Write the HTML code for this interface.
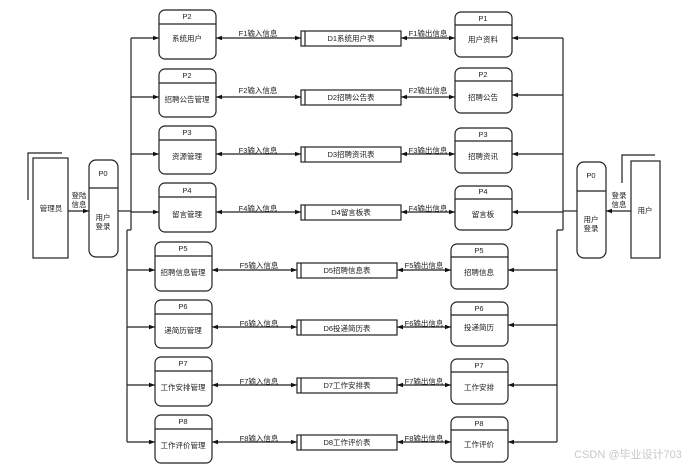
<!DOCTYPE html>
<html><head><meta charset="utf-8"><style>
html,body{margin:0;padding:0;background:#fff;}
svg{display:block;font-family:"Liberation Sans","Noto Sans CJK SC",sans-serif;}
text{font-size:7.5px;fill:#222;text-anchor:middle;}
</style></head><body>
<svg width="683" height="468" viewBox="0 0 683 468" xmlns="http://www.w3.org/2000/svg">
<defs>
<marker id="a" viewBox="0 0 6 6" refX="6" refY="3" markerWidth="5" markerHeight="5" orient="auto-start-reverse"><path d="M0,0.8 L6,3 L0,5.2z" fill="#111"/></marker>
</defs>
<g stroke="#222" stroke-width="1.2" fill="none">
<rect x="33" y="158" width="35" height="100" fill="#fff"/>
<path d="M28,200 V153 H62"/>
<rect x="89" y="160" width="29" height="97" rx="7" fill="#fff"/>
<line x1="89" y1="188" x2="118" y2="188"/>
<line x1="68" y1="211" x2="89" y2="211" marker-end="url(#a)"/>
<line x1="118" y1="211" x2="131" y2="211"/>
<path d="M131,38 V230 M127,230 V442 M131,230 H127" />
<rect x="631" y="161" width="29" height="97" fill="#fff"/>
<path d="M622,183 V155 H655"/>
<rect x="577" y="162" width="29" height="96" rx="7" fill="#fff"/>
<line x1="577" y1="191" x2="606" y2="191"/>
<line x1="631" y1="211" x2="606" y2="211" marker-end="url(#a)"/>
<line x1="577" y1="211" x2="563" y2="211"/>
<path d="M563,38 V230 M557,230 V442 M563,230 H557"/>
</g>
<text x="51" y="211">管理员</text>
<text x="79" y="198">登陆</text><text x="79" y="207">信息</text>
<text x="103" y="176">P0</text>
<text x="103" y="220">用户</text><text x="103" y="229">登录</text>
<text x="645" y="213">用户</text>
<text x="619" y="198">登录</text><text x="619" y="207">信息</text>
<text x="591" y="178">P0</text>
<text x="591" y="222">用户</text><text x="591" y="231">登录</text>

<g>
<g stroke="#222" stroke-width="1.2" fill="none">
<line x1="131" y1="38" x2="159" y2="38" marker-end="url(#a)"/>
<line x1="216" y1="38" x2="301" y2="38" marker-start="url(#a)" marker-end="url(#a)"/>
<line x1="401" y1="38" x2="455" y2="38" marker-start="url(#a)" marker-end="url(#a)"/>
<line x1="563" y1="38" x2="512" y2="38" marker-end="url(#a)"/>
<rect x="159" y="10" width="57" height="49" rx="6" fill="#fff"/><line x1="159" y1="24" x2="216" y2="24"/>
<rect x="301" y="31" width="100" height="15" fill="#fff"/><line x1="305" y1="31" x2="305" y2="46"/>
<rect x="455" y="12" width="57" height="45" rx="6" fill="#fff"/><line x1="455" y1="25" x2="512" y2="25"/>
</g>
<text x="187" y="19">P2</text><text x="187" y="41">系统用户</text>
<text x="258" y="36">F1输入信息</text><text x="351" y="41">D1系统用户表</text>
<text x="428" y="36">F1输出信息</text>
<text x="483" y="21">P1</text><text x="483" y="42">用户资料</text>

<g stroke="#222" stroke-width="1.2" fill="none">
<line x1="131" y1="97" x2="159" y2="97" marker-end="url(#a)"/>
<line x1="216" y1="97" x2="301" y2="97" marker-start="url(#a)" marker-end="url(#a)"/>
<line x1="401" y1="97" x2="455" y2="97" marker-start="url(#a)" marker-end="url(#a)"/>
<line x1="563" y1="95" x2="512" y2="95" marker-end="url(#a)"/>
<rect x="159" y="69" width="57" height="48" rx="6" fill="#fff"/><line x1="159" y1="83" x2="216" y2="83"/>
<rect x="301" y="90" width="100" height="15" fill="#fff"/><line x1="305" y1="90" x2="305" y2="105"/>
<rect x="455" y="68" width="57" height="45" rx="6" fill="#fff"/><line x1="455" y1="81" x2="512" y2="81"/>
</g>
<text x="187" y="78">P2</text><text x="187" y="102">招聘公告管理</text>
<text x="258" y="93">F2输入信息</text><text x="351" y="100">D2招聘公告表</text>
<text x="428" y="93">F2输出信息</text>
<text x="483" y="77">P2</text><text x="483" y="100">招聘公告</text>

<g stroke="#222" stroke-width="1.2" fill="none">
<line x1="131" y1="154" x2="159" y2="154" marker-end="url(#a)"/>
<line x1="216" y1="154" x2="301" y2="154" marker-start="url(#a)" marker-end="url(#a)"/>
<line x1="401" y1="154" x2="455" y2="154" marker-start="url(#a)" marker-end="url(#a)"/>
<line x1="563" y1="154" x2="512" y2="154" marker-end="url(#a)"/>
<rect x="159" y="126" width="57" height="48" rx="6" fill="#fff"/><line x1="159" y1="140" x2="216" y2="140"/>
<rect x="301" y="147" width="100" height="15" fill="#fff"/><line x1="305" y1="147" x2="305" y2="162"/>
<rect x="455" y="128" width="57" height="45" rx="6" fill="#fff"/><line x1="455" y1="141" x2="512" y2="141"/>
</g>
<text x="187" y="135">P3</text><text x="187" y="159">资源管理</text>
<text x="258" y="153">F3输入信息</text><text x="351" y="157">D3招聘资讯表</text>
<text x="428" y="153">F3输出信息</text>
<text x="483" y="137">P3</text><text x="483" y="159">招聘资讯</text>

<g stroke="#222" stroke-width="1.2" fill="none">
<line x1="131" y1="212" x2="159" y2="212" marker-end="url(#a)"/>
<line x1="216" y1="212" x2="301" y2="212" marker-start="url(#a)" marker-end="url(#a)"/>
<line x1="401" y1="212" x2="455" y2="212" marker-start="url(#a)" marker-end="url(#a)"/>
<line x1="563" y1="212" x2="512" y2="212" marker-end="url(#a)"/>
<rect x="159" y="183" width="57" height="49" rx="6" fill="#fff"/><line x1="159" y1="197" x2="216" y2="197"/>
<rect x="301" y="205" width="100" height="15" fill="#fff"/><line x1="305" y1="205" x2="305" y2="220"/>
<rect x="455" y="186" width="57" height="44" rx="6" fill="#fff"/><line x1="455" y1="199" x2="512" y2="199"/>
</g>
<text x="187" y="193">P4</text><text x="187" y="217">留言管理</text>
<text x="258" y="211">F4输入信息</text><text x="351" y="215">D4留言板表</text>
<text x="428" y="211">F4输出信息</text>
<text x="483" y="194">P4</text><text x="483" y="217">留言板</text>

<g stroke="#222" stroke-width="1.2" fill="none">
<line x1="127" y1="270" x2="155" y2="270" marker-end="url(#a)"/>
<line x1="212" y1="270" x2="297" y2="270" marker-start="url(#a)" marker-end="url(#a)"/>
<line x1="397" y1="270" x2="451" y2="270" marker-start="url(#a)" marker-end="url(#a)"/>
<line x1="557" y1="270" x2="508" y2="270" marker-end="url(#a)"/>
<rect x="155" y="242" width="57" height="49" rx="6" fill="#fff"/><line x1="155" y1="256" x2="212" y2="256"/>
<rect x="297" y="263" width="100" height="15" fill="#fff"/><line x1="301" y1="263" x2="301" y2="278"/>
<rect x="451" y="244" width="57" height="45" rx="6" fill="#fff"/><line x1="451" y1="257" x2="508" y2="257"/>
</g>
<text x="183" y="251">P5</text><text x="183" y="275">招聘信息管理</text>
<text x="259" y="268">F5输入信息</text><text x="347" y="273">D5招聘信息表</text>
<text x="424" y="268">F5输出信息</text>
<text x="479" y="253">P5</text><text x="479" y="275">招聘信息</text>

<g stroke="#222" stroke-width="1.2" fill="none">
<line x1="127" y1="327" x2="155" y2="327" marker-end="url(#a)"/>
<line x1="212" y1="327" x2="297" y2="327" marker-start="url(#a)" marker-end="url(#a)"/>
<line x1="397" y1="327" x2="451" y2="327" marker-start="url(#a)" marker-end="url(#a)"/>
<line x1="557" y1="325" x2="508" y2="325" marker-end="url(#a)"/>
<rect x="155" y="300" width="57" height="48" rx="6" fill="#fff"/><line x1="155" y1="314" x2="212" y2="314"/>
<rect x="297" y="320" width="100" height="15" fill="#fff"/><line x1="301" y1="320" x2="301" y2="335"/>
<rect x="451" y="302" width="57" height="44" rx="6" fill="#fff"/><line x1="451" y1="315" x2="508" y2="315"/>
</g>
<text x="183" y="309">P6</text><text x="183" y="333">递简历管理</text>
<text x="259" y="326">F6输入信息</text><text x="347" y="331">D6投递简历表</text>
<text x="424" y="326">F6输出信息</text>
<text x="479" y="311">P6</text><text x="479" y="330">投递简历</text>

<g stroke="#222" stroke-width="1.2" fill="none">
<line x1="127" y1="385" x2="155" y2="385" marker-end="url(#a)"/>
<line x1="212" y1="385" x2="297" y2="385" marker-start="url(#a)" marker-end="url(#a)"/>
<line x1="397" y1="385" x2="451" y2="385" marker-start="url(#a)" marker-end="url(#a)"/>
<line x1="557" y1="385" x2="508" y2="385" marker-end="url(#a)"/>
<rect x="155" y="357" width="57" height="49" rx="6" fill="#fff"/><line x1="155" y1="371" x2="212" y2="371"/>
<rect x="297" y="378" width="100" height="15" fill="#fff"/><line x1="301" y1="378" x2="301" y2="393"/>
<rect x="451" y="359" width="57" height="45" rx="6" fill="#fff"/><line x1="451" y1="372" x2="508" y2="372"/>
</g>
<text x="183" y="366">P7</text><text x="183" y="390">工作安排管理</text>
<text x="259" y="384">F7输入信息</text><text x="347" y="388">D7工作安排表</text>
<text x="424" y="384">F7输出信息</text>
<text x="479" y="368">P7</text><text x="479" y="390">工作安排</text>

<g stroke="#222" stroke-width="1.2" fill="none">
<line x1="127" y1="442" x2="155" y2="442" marker-end="url(#a)"/>
<line x1="212" y1="442" x2="297" y2="442" marker-start="url(#a)" marker-end="url(#a)"/>
<line x1="397" y1="442" x2="451" y2="442" marker-start="url(#a)" marker-end="url(#a)"/>
<line x1="557" y1="442" x2="508" y2="442" marker-end="url(#a)"/>
<rect x="155" y="415" width="57" height="48" rx="6" fill="#fff"/><line x1="155" y1="429" x2="212" y2="429"/>
<rect x="297" y="435" width="100" height="15" fill="#fff"/><line x1="301" y1="435" x2="301" y2="450"/>
<rect x="451" y="417" width="57" height="45" rx="6" fill="#fff"/><line x1="451" y1="430" x2="508" y2="430"/>
</g>
<text x="183" y="424">P8</text><text x="183" y="448">工作评价管理</text>
<text x="259" y="441">F8输入信息</text><text x="347" y="445">D8工作评价表</text>
<text x="424" y="441">F8输出信息</text>
<text x="479" y="426">P8</text><text x="479" y="447">工作评价</text>
</g>
<text x="628" y="458" style="font-size:11px;fill:#c8c8c8">CSDN @毕业设计703</text>
</svg>
</body></html>
